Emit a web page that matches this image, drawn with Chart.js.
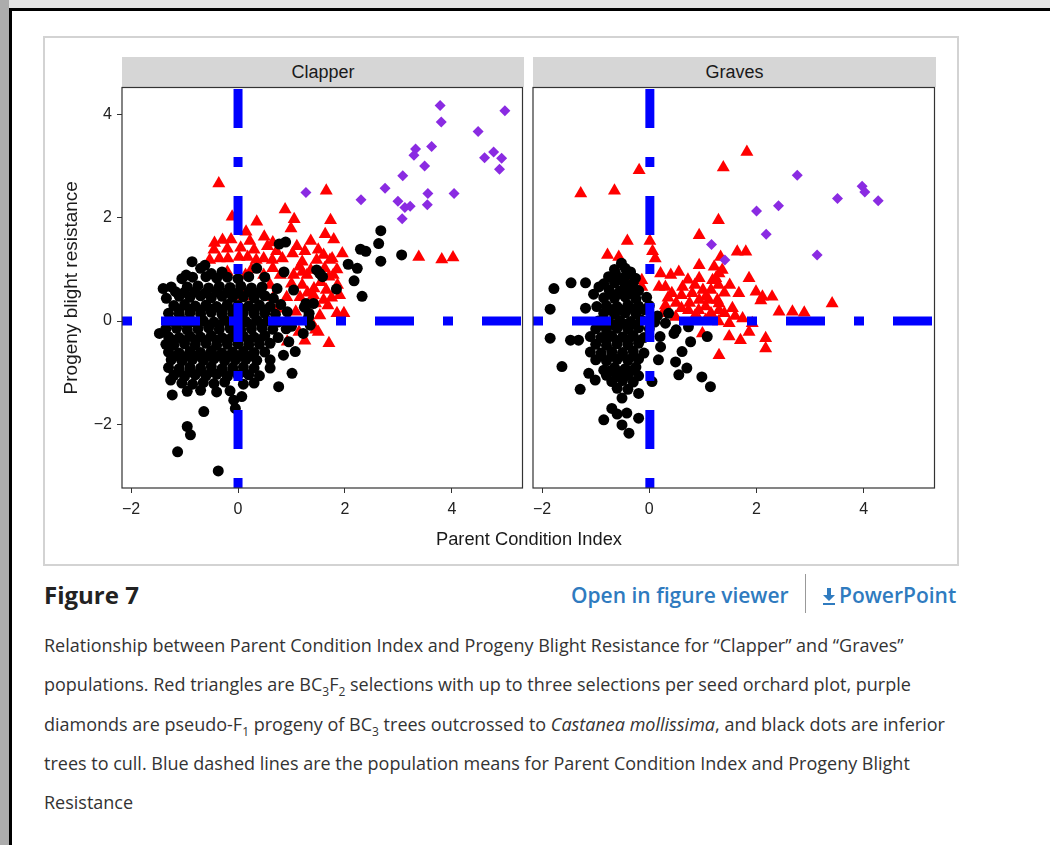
<!DOCTYPE html>
<html>
<head>
<meta charset="utf-8">
<script src="https://cdn.jsdelivr.net/npm/chart.js@4.4.1/dist/chart.umd.min.js"></script>
<style>
  body { margin: 0; width: 1050px; height: 845px; background: #fff; position: relative; overflow: hidden; font-family: "Open Sans", sans-serif; color: #222; }
  .abs { position: absolute; }
  #topbar { left: 0; top: 0; width: 1050px; height: 8px; background: #e3e3e3; }
  #leftbar { left: 0; top: 0; width: 9px; height: 845px; background: #acacac; }
  #topline { left: 9px; top: 8px; width: 1041px; height: 3px; background: #000; }
  #leftline { left: 9px; top: 8px; width: 3px; height: 837px; background: #000; }
  #frame { left: 43px; top: 36px; width: 916px; height: 530px; border: 2px solid #d3d3d3; box-sizing: border-box; }
  .strip { top: 57px; height: 30px; background: #d6d6d6; font: 18px "Liberation Sans", Arial, sans-serif; color: #1a1a1a; text-align: center; line-height: 30px; }
  #xtitle { left: 329px; width: 400px; top: 528px; text-align: center; font: 18.3px "Liberation Sans", Arial, sans-serif; color: #1a1a1a; line-height: 22px; }
  #figlabel { left: 44px; top: 578px; font-weight: 700; font-size: 24px; line-height: 34px; color: #222; }
  #viewer { left: 571px; top: 580px; font-weight: 600; font-size: 21px; line-height: 30px; color: #2f7bbf; }
  #sep { left: 805px; top: 574px; width: 1px; height: 39px; background: #999; }
  #ppt { left: 822px; top: 580px; font-weight: 600; font-size: 21px; line-height: 30px; color: #2f7bbf; }
  #ppt svg { vertical-align: -2px; margin-right: 3px; }
  #caption { left: 44px; top: 626px; font-size: 18px; line-height: 39.3px; white-space: nowrap; color: #333; }
  sub { font-size: 12px; line-height: 0; }
  canvas { position: absolute; }
</style>
</head>
<body>
<div class="abs" id="topbar"></div>
<div class="abs" id="leftbar"></div>
<div class="abs" id="topline"></div>
<div class="abs" id="leftline"></div>
<div class="abs" id="frame"></div>
<div class="abs strip" style="left:122px;width:402px;">Clapper</div>
<div class="abs strip" style="left:533px;width:403px;">Graves</div>
<canvas id="clapper" width="490" height="450" style="left:40px;top:80px;"></canvas>
<canvas id="graves" width="422" height="450" style="left:520px;top:80px;"></canvas>
<div class="abs" id="xtitle">Parent Condition Index</div>
<div class="abs" id="figlabel">Figure 7</div>
<div class="abs" id="viewer">Open in figure viewer</div>
<div class="abs" id="sep"></div>
<div class="abs" id="ppt"><svg width="14" height="18" viewBox="0 0 14 18"><path d="M5 1h4v7h4l-6 6-6-6h4z" fill="#2f7bbf"/><rect x="1" y="16" width="12" height="2" fill="#2f7bbf"/></svg>PowerPoint</div>
<div class="abs" id="caption">
Relationship between Parent Condition Index and Progeny Blight Resistance for “Clapper” and “Graves”<br>
populations. Red triangles are BC<sub>3</sub>F<sub>2</sub> selections with up to three selections per seed orchard plot, purple<br>
diamonds are pseudo-F<sub>1</sub> progeny of BC<sub>3</sub> trees outcrossed to <i>Castanea mollissima</i>, and black dots are inferior<br>
trees to cull. Blue dashed lines are the population means for Parent Condition Index and Progeny Blight<br>
Resistance
</div>
<script>
// axis bounds and ticks (shared by both facets)
var xRange = [-2.17, 5.32];
var yRange = [-3.23, 4.52];
var xTicks = [-2, 0, 2, 4];
var yTicks = [-2, 0, 2, 4];

// population means [Clapper, Graves]
var meanX = [0, 0.01];
var meanY = [0, 0];

var clapperBlack = [
  [-0.86, 1.15], [-0.62, 1.08], [-0.97, 0.89], [-0.70, 1.02], [-0.50, 0.92], [-0.30, 0.95], [0.35, 1.02],
  [-1.05, 0.82], [-0.85, 0.85], [-0.60, 0.86], [-0.40, 0.83], [-0.20, 0.85], [0.00, 0.82], [0.20, 0.86], [0.50, 0.85], [0.86, 0.95],
  [-1.40, 0.63], [-1.25, 0.66], [-1.17, 0.57], [-0.95, 0.66], [-0.75, 0.68], [-0.55, 0.64], [-0.35, 0.67], [-0.15, 0.65], [0.05, 0.68], [0.25, 0.64], [0.45, 0.66], [0.73, 0.63],
  [-1.34, 0.44], [-1.10, 0.48], [-0.90, 0.46], [-0.70, 0.49], [-0.50, 0.45], [-0.30, 0.48], [-0.10, 0.46], [0.10, 0.47], [0.30, 0.45], [0.50, 0.49], [0.66, 0.44],
  [-1.20, 0.30], [-1.00, 0.32], [-0.80, 0.29], [-0.60, 0.31], [-0.40, 0.28], [-0.20, 0.32], [0.00, 0.30], [0.20, 0.29], [0.40, 0.31], [0.60, 0.28], [0.80, 0.32],
  [-1.30, 0.15], [-1.10, 0.13], [-0.90, 0.16], [-0.70, 0.14], [-0.50, 0.17], [-0.30, 0.13], [-0.10, 0.15], [0.10, 0.16], [0.30, 0.14], [0.50, 0.15], [0.70, 0.13], [0.92, 0.18],
  [-1.25, 0.00], [-1.05, 0.02], [-0.85, -0.01], [-0.65, 0.01], [-0.45, -0.02], [-0.25, 0.02], [-0.05, 0.00], [0.15, -0.01], [0.35, 0.02], [0.55, 0.00], [0.75, -0.02], [1.00, -0.10],
  [-1.47, -0.24], [-1.35, -0.15], [-1.15, -0.14], [-0.95, -0.17], [-0.75, -0.15], [-0.55, -0.13], [-0.35, -0.16], [-0.15, -0.14], [0.05, -0.17], [0.25, -0.15], [0.45, -0.13], [0.65, -0.16], [0.90, -0.15],
  [-1.30, -0.30], [-1.10, -0.32], [-0.90, -0.29], [-0.70, -0.31], [-0.50, -0.28], [-0.30, -0.32], [-0.10, -0.30], [0.10, -0.29], [0.30, -0.31], [0.50, -0.28], [0.75, -0.32],
  [-1.35, -0.45], [-1.20, -0.47], [-1.00, -0.44], [-0.80, -0.46], [-0.60, -0.43], [-0.40, -0.47], [-0.20, -0.45], [0.00, -0.44], [0.20, -0.46], [0.40, -0.45], [0.60, -0.43], [0.95, -0.40],
  [-1.30, -0.60], [-1.10, -0.62], [-0.90, -0.59], [-0.70, -0.61], [-0.50, -0.58], [-0.30, -0.62], [-0.10, -0.60], [0.10, -0.59], [0.30, -0.61], [0.50, -0.60], [0.85, -0.66], [1.07, -0.59],
  [-1.25, -0.75], [-1.05, -0.77], [-0.85, -0.74], [-0.65, -0.76], [-0.45, -0.73], [-0.25, -0.77], [-0.05, -0.75], [0.15, -0.74], [0.35, -0.76], [0.60, -0.75],
  [-1.30, -0.90], [-1.10, -0.92], [-0.90, -0.89], [-0.70, -0.91], [-0.50, -0.88], [-0.30, -0.92], [-0.10, -0.90], [0.10, -0.89], [0.30, -0.91], [0.60, -0.91],
  [-1.20, -1.05], [-1.00, -1.07], [-0.80, -1.04], [-0.60, -1.06], [-0.40, -1.03], [-0.20, -1.07], [0.00, -1.05], [0.20, -1.04], [0.40, -1.06], [1.01, -1.01],
  [-1.26, -1.14], [-1.05, -1.20], [-0.85, -1.22], [-0.65, -1.19], [-0.45, -1.21], [-0.25, -1.18], [0.10, -1.22], [0.30, -1.20], [0.76, -1.27],
  [-1.23, -1.43], [-0.95, -1.36], [-0.70, -1.34], [-0.40, -1.37], [-0.15, -1.35], [0.07, -1.46],
  [-0.08, -1.53], [-0.05, -1.69], [-0.64, -1.75], [-0.95, -2.04], [-0.89, -2.20], [-1.13, -2.53], [-0.37, -2.90],
  [0.77, 1.49], [0.89, 1.53], [1.04, 0.60], [1.27, 0.34], [1.33, 0.15], [1.24, 0.27], [1.22, -0.24], [1.35, -0.08], [1.32, 0.08], [1.41, 0.34],
  [1.53, 0.92], [1.47, 0.99], [1.58, 0.86], [1.84, 0.62],
  [2.67, 1.75], [2.63, 1.50], [2.29, 1.39], [2.39, 1.35], [3.06, 1.28], [2.67, 1.16], [2.23, 1.02], [2.06, 1.10], [2.17, 0.78], [2.32, 0.48],
  // dense core
  [-1.00, 0.56], [-0.80, 0.57], [-0.60, 0.55], [-0.40, 0.57], [-0.20, 0.56], [0.00, 0.55], [0.20, 0.57], [0.40, 0.56],
  [-1.10, 0.22], [-0.90, 0.23], [-0.70, 0.21], [-0.50, 0.23], [-0.30, 0.22], [-0.10, 0.21], [0.10, 0.23], [0.30, 0.22], [0.50, 0.21],
  [-1.15, -0.07], [-0.95, -0.08], [-0.75, -0.06], [-0.55, -0.08], [-0.35, -0.07], [-0.15, -0.06], [0.05, -0.08], [0.25, -0.07], [0.45, -0.06],
  [-1.20, -0.37], [-1.00, -0.38], [-0.80, -0.36], [-0.60, -0.38], [-0.40, -0.37], [-0.20, -0.36], [0.00, -0.38], [0.20, -0.37], [0.40, -0.36],
  [-1.15, -0.67], [-0.95, -0.68], [-0.75, -0.66], [-0.55, -0.68], [-0.35, -0.67], [-0.15, -0.66], [0.05, -0.68], [0.25, -0.67],
  [-1.10, -0.97], [-0.90, -0.98], [-0.70, -0.96], [-0.50, -0.98], [-0.30, -0.97], [-0.10, -0.96], [0.10, -0.98]
];

var clapperRed = [
  [-0.36, 2.66], [1.65, 2.52], [0.88, 2.16], [1.05, 1.97], [1.73, 1.95], [0.35, 1.92], [-0.11, 2.02], [0.15, 1.73], [0.49, 1.63], [0.99, 1.79],
  [1.63, 1.68], [1.79, 1.58], [1.36, 1.55], [-0.44, 1.51], [-0.29, 1.57], [-0.13, 1.58], [1.95, 1.31], [1.76, 1.21], [3.38, 1.24], [3.81, 1.19], [4.02, 1.23],
  [-0.53, 1.18], [-0.35, 1.21], [-0.19, 1.21], [0.02, 1.24], [0.18, 1.24], [0.34, 1.18], [0.48, 1.21], [0.64, 1.18], [0.83, 1.21], [1.02, 1.31], [1.20, 1.15], [1.47, 1.18], [1.72, 1.18],
  [-0.45, 1.38], [-0.20, 1.40], [0.05, 1.42], [0.30, 1.38], [0.55, 1.45], [0.72, 1.35], [1.10, 1.45], [1.25, 1.35], [1.50, 1.38], [1.60, 1.28], [0.22, 1.55], [0.65, 1.52],
  [1.36, 0.99], [1.62, 1.02], [1.70, 0.86], [1.86, 0.70], [0.14, 0.89], [0.48, 0.89], [0.79, 0.89], [1.04, 0.89], [1.29, 0.89], [1.78, 0.89], [1.15, 1.05], [0.65, 1.02],
  [1.42, 0.63], [1.20, 0.70], [1.00, 0.72], [1.65, 0.60], [0.60, 0.70], [1.75, 0.45],
  [1.60, 0.41], [1.45, 0.34], [0.66, 0.46], [0.91, 0.46], [1.16, 0.46], [1.41, 0.50],
  [1.85, 0.15], [1.98, 0.15], [1.27, 0.02], [1.08, 0.18], [0.73, 0.24], [1.53, 0.11],
  [1.70, -0.43], [1.45, -0.17], [1.14, -0.21], [0.92, -0.40], [0.97, -0.02], [1.50, -0.21], [1.41, -0.09], [1.25, -0.38],
  [0.10, 0.47], [-0.20, 0.95], [0.25, 1.00],
  [1.55, 0.75], [1.30, 0.55], [1.85, 1.00], [1.68, 0.30], [1.20, 0.95], [1.90, 0.50]
];

var clapperPurple = [
  [3.78, 4.17], [3.80, 3.85], [4.99, 4.07], [4.49, 3.67], [3.62, 3.38], [3.32, 3.33], [3.29, 3.21], [3.49, 3.00],
  [4.78, 3.27], [4.61, 3.16], [4.93, 3.15], [4.89, 2.94], [3.08, 2.81], [2.75, 2.57], [1.27, 2.49], [2.30, 2.35],
  [3.55, 2.47], [4.04, 2.47], [3.54, 2.25], [2.99, 2.32], [3.12, 2.20], [3.22, 2.22], [3.07, 1.98]
];

var gravesBlack = [
  [-0.52, 1.12], [-0.65, 1.00], [-0.45, 1.02], [-0.35, 0.95],
  [-0.76, 0.86], [-0.63, 0.92], [-0.45, 0.86], [-0.26, 0.83], [-0.55, 0.80],
  [-1.78, 0.63], [-1.46, 0.74], [-1.19, 0.74], [-0.85, 0.72], [-0.65, 0.74], [-0.45, 0.71], [-0.30, 0.73],
  [-0.94, 0.66], [-1.04, 0.52], [-0.75, 0.60], [-0.55, 0.58], [-0.35, 0.62], [-0.20, 0.59],
  [-0.85, 0.45], [-0.65, 0.44], [-0.45, 0.47], [-0.25, 0.43], [-0.05, 0.46],
  [-1.19, 0.25], [-0.98, 0.28], [-0.80, 0.30], [-0.60, 0.28], [-0.40, 0.31], [-0.20, 0.29], [0.00, 0.30], [-1.85, 0.23],
  [-0.85, 0.15], [-0.65, 0.13], [-0.45, 0.16], [-0.25, 0.14], [0.36, 0.15], [0.15, 0.10],
  [-0.95, 0.00], [-0.75, -0.02], [-0.55, 0.01], [-0.35, -0.01], [-0.15, 0.02], [0.30, -0.04], [0.10, -0.02],
  [-1.00, -0.15], [-0.80, -0.17], [-0.60, -0.14], [-0.40, -0.16], [-0.20, -0.13], [0.00, -0.15], [0.73, -0.11], [0.50, -0.17],
  [-1.85, -0.33], [-1.47, -0.37], [-1.32, -0.37], [-1.10, -0.30], [-0.90, -0.32], [-0.70, -0.29], [-0.50, -0.31], [-0.30, -0.28], [-0.10, -0.32], [0.46, -0.24], [1.08, -0.30], [0.20, -0.30],
  [-1.00, -0.45], [-0.80, -0.47], [-0.60, -0.44], [-0.40, -0.46], [-0.20, -0.43], [0.77, -0.40], [0.21, -0.50],
  [-1.10, -0.60], [-0.90, -0.62], [-0.70, -0.59], [-0.50, -0.61], [-0.30, -0.58], [-0.10, -0.62], [0.61, -0.59],
  [-1.00, -0.75], [-0.80, -0.77], [-0.60, -0.74], [-0.40, -0.76], [-0.20, -0.73], [0.17, -0.75], [0.49, -0.79],
  [-1.63, -0.88], [-0.85, -0.95], [-0.65, -0.90], [-0.45, -0.92], [-0.25, -0.89], [0.70, -0.91],
  [-1.13, -1.01], [-0.80, -1.05], [-0.60, -1.07], [-0.40, -1.04], [-0.20, -1.06], [0.55, -1.04], [0.98, -1.08],
  [-1.01, -1.14], [-0.70, -1.17], [-0.50, -1.15], [-0.30, -1.18], [0.05, -1.17], [1.14, -1.27],
  [-1.29, -1.32], [-0.60, -1.30], [-0.40, -1.32], [-0.20, -1.40], [-0.51, -1.49],
  [-0.70, -1.69], [-0.85, -1.91], [-0.42, -1.78], [-0.20, -1.88], [-0.51, -2.01], [-0.38, -2.17], [-0.60, -1.80],
  // dense core
  [-0.70, 0.52], [-0.50, 0.53], [-0.30, 0.51],
  [-0.70, 0.22], [-0.50, 0.21], [-0.30, 0.23], [-0.10, 0.22],
  [-0.85, -0.07], [-0.65, -0.08], [-0.45, -0.06], [-0.25, -0.07],
  [-0.80, -0.37], [-0.60, -0.38], [-0.40, -0.36], [-0.20, -0.38],
  [-0.90, -0.67], [-0.70, -0.68], [-0.50, -0.66], [-0.30, -0.68],
  [-0.75, -0.97], [-0.55, -0.98], [-0.35, -0.96]
];

var gravesRed = [
  [1.82, 3.27], [1.38, 2.97], [-0.19, 2.92], [-1.28, 2.47], [-0.65, 2.52], [1.29, 1.95], [0.93, 1.66], [-0.41, 1.55], [0.01, 1.55],
  [0.06, 1.35], [0.11, 1.21], [-0.78, 1.28], [-0.57, 1.24], [1.64, 1.34], [1.80, 1.34], [1.33, 1.24],
  [0.93, 1.08], [1.21, 1.05], [1.36, 0.99], [1.30, 0.92], [1.86, 0.83], [1.24, 0.83], [0.93, 0.83], [1.18, 0.79], [1.29, 0.70],
  [1.67, 0.54], [1.99, 0.57], [2.11, 0.47], [2.29, 0.47], [2.08, 0.40], [2.42, 0.18], [2.67, 0.18], [2.89, 0.16], [3.41, 0.34],
  [0.40, 0.89], [0.62, 0.66], [0.80, 0.54], [0.21, 0.92], [0.18, 0.66], [1.05, 0.47], [0.93, 0.41], [1.11, 0.41], [1.27, 0.41], [1.30, 0.34],
  [0.42, 0.54], [0.30, 0.66], [0.73, 0.21], [0.92, 0.21], [1.05, 0.28], [1.30, 0.21], [0.49, 0.08], [0.93, 0.02], [1.05, 0.02],
  [1.29, -0.01], [1.49, -0.04], [1.74, 0.05], [1.92, -0.04], [0.99, -0.24], [1.49, -0.30], [1.70, -0.37], [1.86, -0.21],
  [2.17, -0.33], [2.17, -0.53], [1.30, -0.66], [-0.32, 0.86], [-0.14, 0.79], [-0.14, 0.66],
  [0.55, 0.95], [0.72, 0.80], [0.50, 0.35], [0.30, 0.30], [0.75, 0.35], [1.50, 0.70], [1.55, 0.25], [1.15, 0.60],
  [0.35, 0.45], [0.60, 0.50], [0.85, 0.70], [1.00, 0.60], [0.60, 0.25], [0.85, 0.10], [1.15, 0.15], [1.40, 0.55], [1.40, 0.15], [1.60, 0.10], [0.25, 0.15]
];

var gravesPurple = [
  [2.76, 2.82], [3.97, 2.61], [4.02, 2.50], [3.51, 2.37], [4.27, 2.33], [2.41, 2.23],
  [2.00, 2.13], [2.18, 1.68], [3.13, 1.28], [1.16, 1.48], [1.41, 1.18]
];

var tickFont = { family: 'Liberation Sans, Arial, sans-serif', size: 16 };

// dark frame round each facet panel
var panelBox = {
  id: 'panelBox',
  afterDatasetsDraw: function (chart) {
    var a = chart.chartArea;
    var ctx = chart.ctx;
    ctx.save();
    ctx.strokeStyle = '#333';
    ctx.lineWidth = 1.2;
    ctx.strokeRect(a.left, a.top, a.right - a.left, a.bottom - a.top);
    ctx.restore();
  }
};

function meanLine(points) {
  return {
    data: points,
    showLine: true,
    pointRadius: 0,
    borderColor: '#0000ff',
    borderWidth: 9,
    borderDash: [10, 29, 39, 29],
    borderCapStyle: 'butt',
    clip: 0,
    order: 0
  };
}

function minus(v) {
  return String(v).replace('-', '\u2212');
}

function buildPanel(id, black, red, purple, mx, my, showY, padLeft) {
  var ctx = document.getElementById(id).getContext('2d');
  return new Chart(ctx, {
    type: 'scatter',
    data: {
      datasets: [
        meanLine([[mx, yRange[0]], [mx, yRange[1]]]),
        meanLine([[xRange[0], my], [xRange[1], my]]),
        { data: purple, pointStyle: 'rectRot', pointRadius: 5.5, backgroundColor: '#8a2be2', borderWidth: 0, order: 1 },
        { data: black, pointStyle: 'circle', pointRadius: 5.5, backgroundColor: '#000000', borderWidth: 0, order: 2 },
        { data: red, pointStyle: 'triangle', pointRadius: 7.5, backgroundColor: '#ff0000', borderWidth: 0, order: 3 }
      ]
    },
    options: {
      responsive: false,
      animation: false,
      events: [],
      layout: { padding: { left: padLeft, right: 6, top: 7, bottom: 0 } },
      plugins: { legend: { display: false }, tooltip: { enabled: false } },
      scales: {
        x: {
          type: 'linear',
          min: xRange[0],
          max: xRange[1],
          afterBuildTicks: function (axis) { axis.ticks = xTicks.map(function (v) { return { value: v }; }); },
          afterFit: function (axis) { axis.height = 42; axis.paddingLeft = 0; axis.paddingRight = 0; },
          grid: { drawOnChartArea: false, drawTicks: true, tickLength: 5, color: '#333' },
          border: { display: false },
          ticks: { font: tickFont, color: '#222', padding: 7, maxRotation: 0, autoSkip: false, callback: minus }
        },
        y: {
          type: 'linear',
          display: showY,
          min: yRange[0],
          max: yRange[1],
          afterBuildTicks: function (axis) { axis.ticks = yTicks.map(function (v) { return { value: v }; }); },
          afterFit: function (axis) { axis.width = showY ? 82 : 0; axis.paddingTop = 0; axis.paddingBottom = 0; },
          grid: { drawOnChartArea: false, drawTicks: true, tickLength: 5, color: '#333' },
          border: { display: false },
          title: {
            display: true,
            text: 'Progeny blight resistance',
            font: { family: 'Liberation Sans, Arial, sans-serif', size: 19 },
            color: '#1a1a1a',
            padding: { top: 20, bottom: 0 }
          },
          ticks: { font: tickFont, color: '#222', padding: 5, callback: minus }
        }
      }
    },
    plugins: [panelBox]
  });
}

buildPanel('clapper', clapperBlack, clapperRed, clapperPurple, meanX[0], meanY[0], true, 0);
buildPanel('graves', gravesBlack, gravesRed, gravesPurple, meanX[1], meanY[1], false, 13);
</script>
</body>
</html>
